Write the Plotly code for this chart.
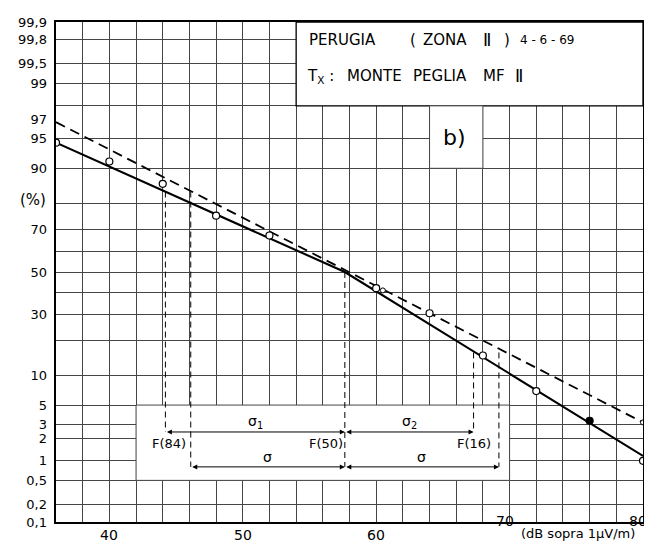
import plotly.graph_objects as go
from statistics import NormalDist

_nd = NormalDist()


def z(p):
    """probability-paper scale: percentage -> standard normal quantile"""
    return _nd.inv_cdf(p / 100.0)


# ---------------- data ----------------
meas_db = [36, 40, 44, 48, 52, 60, 64, 68, 72, 76, 80]
meas_pct = [94.5, 91.4, 86.2, 75.7, 67.4, 42.1, 30.5, 15.1, 7.05, 3.3, 0.98]
meas_filled = [False, False, False, False, False, False, False, False, False, True, False]

fitpts_db = [60.5, 80]
fitpts_pct = [41.0, 3.15]

solid_db = [36, 57.65, 80]
solid_pct = [94.5, 50, 1.15]

dashed_db = [36, 80]
dashed_pct = [96.8, 3.15]

# characteristic points
F_pct = [84, 50, 16]
F_db = [44.2, 57.65, 67.3]
F_text = ["F(84)", "F(50)", "F(16)"]
sigma_db = [46.1, 69.2]
row1_pct = 2.4   # sigma1 / sigma2 arrows
row2_pct = 0.8   # sigma arrows

# axes
x_grid_start, x_grid_end, x_grid_step = 36, 80, 2
x_tick_vals = [40, 50, 60, 70, 80]
x_tick_text = ["40", "50", "60", "70", "80"]
y_grid_pct = [0.1, 0.2, 0.5, 1, 2, 3, 5, 10, 20, 30, 40, 50, 60, 70, 80, 90, 95, 98, 99, 99.5, 99.8, 99.9]
y_label_pct = [99.9, 99.8, 99.5, 99, 97, 95, 90, 70, 50, 30, 10, 5, 3, 2, 1, 0.5, 0.2, 0.1]
y_label_txt = ["99,9", "99,8", "99,5", "99", "97", "95", "90", "70", "50", "30", "10",
               "5", "3", "2", "1", "0,5", "0,2", "0,1"]
y_unit = "(%)"

FONT = "DejaVu Sans"
GRID = "#454545"

fig = go.Figure()

# measured curve (two straight segments on probability paper)
fig.add_trace(go.Scatter(x=solid_db, y=[z(p) for p in solid_pct], mode="lines",
                         line=dict(color="black", width=2.1), hoverinfo="skip"))
# gaussian fit (dashed)
fig.add_trace(go.Scatter(x=dashed_db, y=[z(p) for p in dashed_pct], mode="lines",
                         line=dict(color="black", width=1.8, dash="10px,6px"), hoverinfo="skip"))

# vertical construction lines
vlines = [
    (F_db[0], F_pct[0], row1_pct),
    (sigma_db[0], F_pct[0], row2_pct),
    (F_db[1], F_pct[1], row2_pct),
    (F_db[2], F_pct[2], row1_pct),
    (sigma_db[1], F_pct[2], row2_pct),
]
for xv, p_top, p_bot in vlines:
    fig.add_trace(go.Scatter(x=[xv, xv], y=[z(p_top), z(p_bot)], mode="lines",
                             line=dict(color="black", width=1, dash="6px,4px"), hoverinfo="skip"))

# measured points
fig.add_trace(go.Scatter(
    x=meas_db, y=[z(p) for p in meas_pct], mode="markers",
    marker=dict(symbol="circle", size=7,
                color=["black" if f else "white" for f in meas_filled],
                line=dict(color="black", width=1.2)),
    hoverinfo="skip"))
fig.add_trace(go.Scatter(
    x=fitpts_db, y=[z(p) for p in fitpts_pct], mode="markers",
    marker=dict(symbol="circle", size=5, color="white", line=dict(color="black", width=1)),
    hoverinfo="skip"))

# invisible trace for label axis
fig.add_trace(go.Scatter(x=[x_grid_start], y=[0], yaxis="y2", mode="markers",
                         marker=dict(opacity=0), hoverinfo="skip"))

yr = [z(0.1), z(99.9)]
# page has an 8px body margin: figure is 644x544 so the plot area lands at 56..645 x 15..522
fig.update_layout(
    width=644, height=544,
    margin=dict(l=48, r=7, t=7, b=30),
    paper_bgcolor="white", plot_bgcolor="white",
    showlegend=False,
    font=dict(family=FONT, color="black", size=13),
    xaxis=dict(range=[x_grid_start, x_grid_end], tickmode="linear", tick0=x_grid_start,
               dtick=x_grid_step, showticklabels=False, showgrid=True, gridcolor=GRID,
               gridwidth=1, zeroline=False, showline=True, mirror=True,
               linecolor="black", linewidth=1.5, ticks=""),
    yaxis=dict(range=yr, tickmode="array", tickvals=[z(p) for p in y_grid_pct],
               showticklabels=False, showgrid=True, gridcolor=GRID, gridwidth=1,
               zeroline=False, showline=True, mirror=True, linecolor="black",
               linewidth=1.5, ticks=""),
    yaxis2=dict(range=yr, overlaying="y", side="left", tickmode="array",
                tickvals=[z(p) for p in y_label_pct], ticktext=y_label_txt,
                showgrid=False, zeroline=False, showline=False, ticks="",
                ticklabelstandoff=8, tickfont=dict(family=FONT, size=13, color="black")),
)

# white boxes covering the grid
fig.add_shape(type="rect", xref="x", yref="y", x0=54, x1=80, y0=z(98), y1=z(99.9),
              fillcolor="white", line=dict(color="black", width=1.3), layer="between")
fig.add_shape(type="rect", xref="x", yref="y", x0=64, x1=68, y0=z(90), y1=z(98),
              fillcolor="white", line=dict(color=GRID, width=1), layer="between")
fig.add_shape(type="rect", xref="x", yref="y", x0=42, x1=70, y0=z(0.5), y1=z(5),
              fillcolor="white", line=dict(color=GRID, width=1), layer="between")

ann = []


def txt(x, y, s, size=13, xanchor="center", xref="paper", yref="paper", xshift=0):
    ann.append(dict(x=x, y=y, text=s, xref=xref, yref=yref, showarrow=False,
                    xanchor=xanchor, yanchor="middle", xshift=xshift,
                    font=dict(family=FONT, size=size, color="black")))


def px(xp):
    return (xp - 56) / 589.0


def py(yp):
    return (522 - yp) / 507.0


# y unit label next to the 80 % grid line
txt(px(33), py(195), y_unit, 15)

# title box
txt(px(308), py(33), "PERUGIA", 15, "left")
txt(px(409), py(33), "(", 15, "left")
txt(px(422), py(33), "ZONA", 15, "left")
txt(px(482), py(33), "\u2161", 17, "left")
txt(px(504), py(33), ")", 15, "left")
txt(px(520), py(33), "4\u00a0-\u00a06\u00a0-\u00a069", 12, "left")
txt(px(306), py(70), "T<sub>X</sub>\u00a0:", 15, "left")
txt(px(346), py(70), "MONTE", 15, "left")
txt(px(412), py(70), "PEGLIA", 15, "left")
txt(px(482), py(70), "MF", 15, "left")
txt(px(515), py(70), "\u2161", 17, "left")
txt(px(456), py(132), "b)", 22)

# x tick labels
for v, s in zip(x_tick_vals, x_tick_text):
    if v < 70:
        txt(v, py(535), s, 14, xref="x")
    else:
        txt(v, py(521), s, 14, xref="x", xshift=-5)
txt(px(580), py(534), "(dB sopra 1\u00b5V/m)", 13)

# construction annotations
txt((F_db[0] + F_db[1]) / 2, py(421), "\u03c3<sub>1</sub>", 14, xref="x")
txt((F_db[1] + F_db[2]) / 2, py(421), "\u03c3<sub>2</sub>", 14, xref="x")
txt(F_db[0] + 0.3, py(442), F_text[0], 13, xref="x")
txt(F_db[1], py(442), F_text[1], 13, xanchor="right", xref="x")
txt(F_db[2], py(442), F_text[2], 13, xref="x")
txt((sigma_db[0] + F_db[1]) / 2, py(456), "\u03c3", 14, xref="x")
txt((F_db[1] + sigma_db[1]) / 2, py(456), "\u03c3", 14, xref="x")

# double-headed arrows
arrows = [
    (F_db[0], F_db[1], row1_pct),
    (F_db[1], F_db[2], row1_pct),
    (sigma_db[0], F_db[1], row2_pct),
    (F_db[1], sigma_db[1], row2_pct),
]
for x0, x1, p in arrows:
    ann.append(dict(x=x1, y=z(p), ax=x0, ay=z(p), xref="x", yref="y", axref="x", ayref="y",
                    text="", showarrow=True, arrowhead=2, arrowside="end+start",
                    arrowsize=1, arrowwidth=1, arrowcolor="black", standoff=0,
                    startstandoff=0))

fig.update_layout(annotations=ann)

fig.write_html("out.html")
